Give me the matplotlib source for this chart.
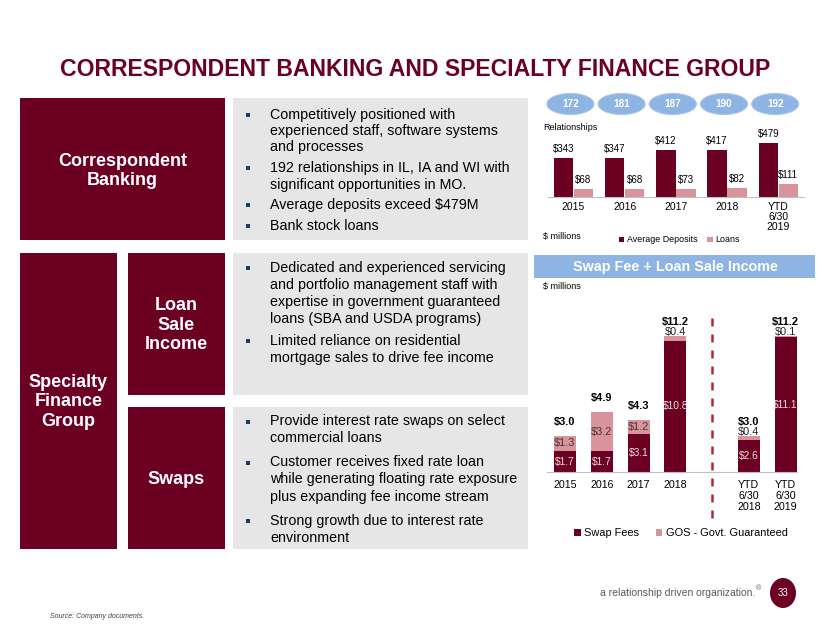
import matplotlib
matplotlib.use('Agg')
import matplotlib.pyplot as plt
from matplotlib.patches import Rectangle, Ellipse
import matplotlib.transforms as mtransforms
import numpy as np

plt.rcParams['font.family'] = ['Liberation Sans', 'DejaVu Sans']

# ---------------- data ----------------
rel_years = ['2015', '2016', '2017', '2018', 'YTD\n6/30\n2019']
relationships = [172, 181, 187, 190, 192]
avg_deposits = [343, 347, 412, 417, 479]
loans = [68, 68, 73, 82, 111]

inc_periods = ['2015', '2016', '2017', '2018', 'YTD\n6/30\n2018', 'YTD\n6/30\n2019']
swap_fees = [1.7, 1.7, 3.1, 10.8, 2.6, 11.1]
gos = [1.3, 3.2, 1.2, 0.4, 0.4, 0.1]
totals = [3.0, 4.9, 4.3, 11.2, 3.0, 11.2]

title = 'CORRESPONDENT BANKING AND SPECIALTY FINANCE GROUP'
cb_bullets = [
    ['Competitively positioned with', 'experienced staff, software systems', 'and processes'],
    ['192 relationships in IL, IA and WI with', 'significant opportunities in MO.'],
    ['Average deposits exceed $479M'],
    ['Bank stock loans'],
]
lsi_bullets = [
    ['Dedicated and experienced servicing', 'and portfolio management staff with',
     'expertise in government guaranteed', 'loans (SBA and USDA programs)'],
    ['Limited reliance on residential', 'mortgage sales to drive fee income'],
]
swap_bullets = [
    ['Provide interest rate swaps on select', 'commercial loans'],
    ['Customer receives fixed rate loan', 'while generating floating rate exposure',
     'plus expanding fee income stream'],
    ['Strong growth due to interest rate', 'environment'],
]

# ---------------- style ----------------
MAROON = '#6B0022'
PINK = '#D8939B'
BLUE = '#8DB4E2'
GRAYBOX = '#E6E6E6'
NAVY = '#1F3864'

W, H = 830, 632
fig = plt.figure(figsize=(8.3, 6.32), dpi=100)
bg = fig.add_axes([0, 0, 1, 1], zorder=0)
bg.set_xlim(0, W)
bg.set_ylim(H, 0)
bg.axis('off')


def ax_px(x0, y0, x1, y1):
    a = fig.add_axes([x0 / W, 1 - y1 / H, (x1 - x0) / W, (y1 - y0) / H], zorder=2)
    a.patch.set_alpha(0)
    return a


def rect(x0, y0, x1, y1, color):
    bg.add_patch(Rectangle((x0, y0), x1 - x0, y1 - y0, facecolor=color, edgecolor='none'))


# title
bg.text(415, 70, title, ha='center', va='center', color=MAROON, fontsize=16.6, fontweight='bold')

# left boxes
rect(20, 98, 225, 240, MAROON)
rect(233, 98, 528, 240, GRAYBOX)
rect(20, 253, 117, 549, MAROON)
rect(128, 253, 225, 395, MAROON)
rect(233, 253, 528, 395, GRAYBOX)
rect(128, 407, 225, 549, MAROON)
rect(233, 407, 528, 549, GRAYBOX)

lab_kw = dict(ha='center', va='center', color='white', fontsize=13, fontweight='bold', linespacing=1.2)
bg.text(122.5, 171, 'Correspondent\nBanking', **lab_kw)
bg.text(176.5, 325, 'Loan\nSale\nIncome', **lab_kw)
bg.text(68.5, 402, 'Specialty\nFinance\nGroup', **lab_kw)
bg.text(176.5, 479, 'Swaps', **lab_kw)


def bullets(groups, y0, s=17, g=4):
    y = y0
    for grp in groups:
        bg.add_patch(Rectangle((246, y - 2), 4, 4, facecolor=NAVY, edgecolor='none'))
        for line in grp:
            bg.text(270, y, line, ha='left', va='center', fontsize=10.3, color='black')
            y += s
        y += g


bullets(cb_bullets, 114.5, 16.5, 4)
bullets(lsi_bullets, 268, 17, 5)
bullets(swap_bullets, 421.5, 17, 7)

# ---------------- top chart ----------------
ax1 = ax_px(547.9, 129, 803.9, 197)
x1 = np.arange(len(rel_years))
bw = 0.38
b_dep = ax1.bar(x1 - 0.195, avg_deposits, bw, color=MAROON)
b_loan = ax1.bar(x1 + 0.195, loans, bw, color=PINK)
ax1.set_xlim(-0.5, 4.5)
ax1.set_ylim(0, 600)
for sp in ['top', 'left', 'right']:
    ax1.spines[sp].set_visible(False)
ax1.spines['bottom'].set_color('#BFBFBF')
ax1.set_yticks([])
ax1.set_xticks(x1)
ax1.set_xticklabels(rel_years, fontsize=7.5, linespacing=1.0)
ax1.tick_params(axis='x', length=0, pad=3.5)
for xi, v in zip(x1, avg_deposits):
    ax1.annotate(f'${v}', (xi - 0.195, v), xytext=(0, 9), textcoords='offset pixels',
                 ha='center', va='center', fontsize=7)
for xi, v in zip(x1, loans):
    ax1.annotate(f'${v}', (xi + 0.195, v), xytext=(0, 9), textcoords='offset pixels',
                 ha='center', va='center', fontsize=7)

# relationship ellipses
tr = mtransforms.blended_transform_factory(ax1.transData, bg.transData)
for xi, r in zip(x1, relationships):
    bg.add_patch(Ellipse((xi - 0.06, 104), 0.92, 21, transform=tr, facecolor=BLUE,
                         edgecolor='#A9C4E8', lw=0.8, zorder=3))
    bg.text(xi - 0.06, 104, str(r), transform=tr, ha='center', va='center', color='white',
            fontsize=7.2, fontweight='bold', zorder=4)

bg.text(543, 128, 'Relationships', fontsize=6.5, ha='left', va='center', zorder=5)
bg.text(543, 237, '$ millions', fontsize=6.5, ha='left', va='center')
ax1.legend([b_dep, b_loan], ['Average Deposits', 'Loans'], loc='center left',
           bbox_to_anchor=(619, 240), bbox_transform=bg.transData, ncol=2, frameon=False,
           fontsize=6.4, handlelength=0.6, handleheight=0.6, handletextpad=0.3,
           columnspacing=1.1, borderpad=0, borderaxespad=0)

# ---------------- bottom chart ----------------
rect(534, 255, 815, 278, BLUE)
bg.text(675, 266.5, 'Swap Fee + Loan Sale Income', ha='center', va='center', color='white',
        fontsize=10.4, fontweight='bold')
bg.text(543, 286, '$ millions', fontsize=6.5, ha='left', va='center')

ax2 = ax_px(547, 320, 797, 472)
idx = np.arange(len(inc_periods))
pos = idx + (idx >= 4)
bw2 = 0.6
b_swap = ax2.bar(pos, swap_fees, bw2, color=MAROON)
b_gos = ax2.bar(pos, gos, bw2, bottom=swap_fees, color=PINK)
ax2.set_xlim(-0.49, 6.31)
ax2.set_ylim(0, 12.5)
for sp in ['top', 'left', 'right']:
    ax2.spines[sp].set_visible(False)
ax2.spines['bottom'].set_color('#BFBFBF')
ax2.set_yticks([])
ax2.set_xticks(pos)
ax2.set_xticklabels(inc_periods, fontsize=7.7, linespacing=1.15)
ax2.tick_params(axis='x', length=0, pad=5.5)
ax2.axvline(4, ymin=-0.30, ymax=1.02, color='#B0283C', lw=1.8,
            linestyle=(0, (3.2, 3.2)), clip_on=False)

for p, s, g, t in zip(pos, swap_fees, gos, totals):
    ax2.text(p, s / 2, f'${s:.1f}', ha='center', va='center', fontsize=7.4, color='#F2DCE0')
    if g >= 1:
        ax2.text(p, s + g / 2, f'${g:.1f}', ha='center', va='center', fontsize=7.9, color='#4A3036')
    else:
        ax2.annotate(f'${g:.1f}', (p, s + g), xytext=(0, 3.5), textcoords='offset pixels',
                     ha='center', va='center', fontsize=7.9, color='#222222')
    ax2.annotate(f'${t:.1f}', (p, s + g), xytext=(0, 14), textcoords='offset pixels',
                 ha='center', va='center', fontsize=7.9, fontweight='bold', color='black')

ax2.legend([b_swap, b_gos], ['Swap Fees', 'GOS - Govt. Guaranteed'], loc='center left',
           bbox_to_anchor=(574, 533), bbox_transform=bg.transData, ncol=2, frameon=False,
           fontsize=7.9, handlelength=0.6, handleheight=0.6, handletextpad=0.35,
           columnspacing=1.5, borderpad=0, borderaxespad=0)

# ---------------- footer ----------------
bg.text(755, 593, 'a relationship driven organization.', ha='right', va='center',
        fontsize=7.5, color='#595959')
bg.text(756, 589, '\u00ae', ha='left', va='center', fontsize=5, color='#595959')
bg.add_patch(Ellipse((783, 593), 26, 30, facecolor=MAROON, edgecolor='none'))
bg.text(783, 593, '33', ha='center', va='center', color='white', fontsize=7)
bg.text(50, 616, 'Source: Company documents.', ha='left', va='center', fontsize=5,
        style='italic', color='#404040')

fig.savefig('out.png', dpi=100)
